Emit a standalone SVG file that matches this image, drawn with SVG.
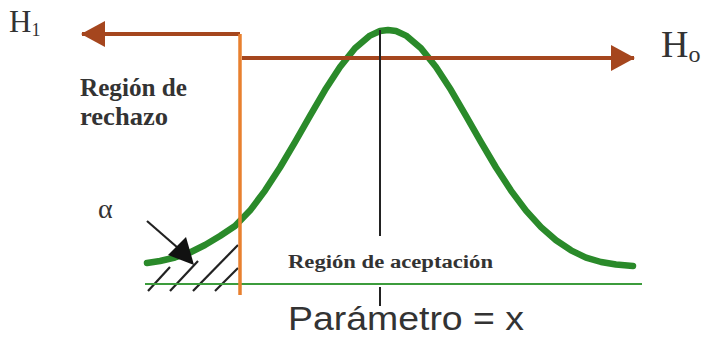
<svg xmlns="http://www.w3.org/2000/svg" width="701" height="340" viewBox="0 0 701 340">
<style>
.serif{font-family:"Liberation Serif","Times New Roman",serif;fill:#333}
.bold{font-weight:bold}
.sans{font-family:"Liberation Sans",Arial,sans-serif;fill:#333}
.brown{stroke:#a5461e;stroke-width:4;fill:none}
.hatch{stroke:#222;stroke-width:2.2}
</style>
<defs>
<marker id="ah" markerWidth="24" markerHeight="26" refX="23" refY="13" orient="auto" markerUnits="userSpaceOnUse">
<path d="M0,0 L24,13 L0,26 Z" fill="#a5461e"/>
</marker>
</defs>
<rect width="701" height="340" fill="#fff"/>
<g id="hatching">
<line class="hatch" x1="148" y1="291" x2="170" y2="267"/>
<line class="hatch" x1="170" y1="291" x2="198" y2="261"/>
<line class="hatch" x1="193" y1="291" x2="238" y2="245"/>
<line class="hatch" x1="215" y1="291" x2="238" y2="268"/>
</g>
<g id="baseline">
<line x1="145" y1="284" x2="642" y2="284" stroke="#3c9c3c" stroke-width="2"/>
</g>
<g id="curve">
<path d="M147,263 L160,261 L175,257.5 L190,252.5 L205,245 L220,236 L235,226 L250,210.6 L265,190.6 L280,167.5 L295,142.2 L310,115.8 L325,90.1 L340,67 L355,48.2 L370,35.6 L380,31 L388,30 L396,31 L406,35.6 L421,48.2 L436,67 L451,90.1 L466,115.8 L481,142.2 L496,167.5 L511,190.6 L526,210.6 L541,227.1 L556,240.3 L571,250.3 L586,257.6 L601,262 L616,264.5 L633,266" fill="none" stroke="#2a8a2a" stroke-width="6.5" stroke-linejoin="round" stroke-linecap="round"/>
</g>
<g id="connectors">
<path class="brown" d="M240,34 H82" marker-end="url(#ah)"/>
<path class="brown" d="M242,58 H634" marker-end="url(#ah)"/>
<line x1="240" y1="34" x2="240" y2="295" stroke="#e8802f" stroke-width="3.5"/>
<line x1="380" y1="30" x2="380" y2="236" stroke="#222" stroke-width="2"/>
<line x1="380" y1="287" x2="380" y2="306" stroke="#222" stroke-width="2"/>
<line x1="147" y1="221" x2="178" y2="248" stroke="#222" stroke-width="2.2"/>
<polygon points="194,265 168,255 186,237" fill="#111"/>
</g>
<g id="labels">
<text class="serif" x="9" y="32" font-size="31">H<tspan font-size="18" dy="4">1</tspan></text>
<text class="serif" x="661" y="57" font-size="38">H<tspan font-size="24" dy="5">o</tspan></text>
<text class="serif bold" x="80" y="96" font-size="25" textLength="107" lengthAdjust="spacingAndGlyphs">Región de</text>
<text class="serif bold" x="80" y="125" font-size="25" textLength="88" lengthAdjust="spacingAndGlyphs">rechazo</text>
<text class="serif" x="98" y="218" font-size="28">α</text>
<text class="serif bold" x="288" y="268" font-size="18" textLength="205" lengthAdjust="spacingAndGlyphs">Región de aceptación</text>
<text class="sans" x="288" y="330" font-size="34" textLength="236" lengthAdjust="spacingAndGlyphs">Parámetro = x</text>
</g>
</svg>
